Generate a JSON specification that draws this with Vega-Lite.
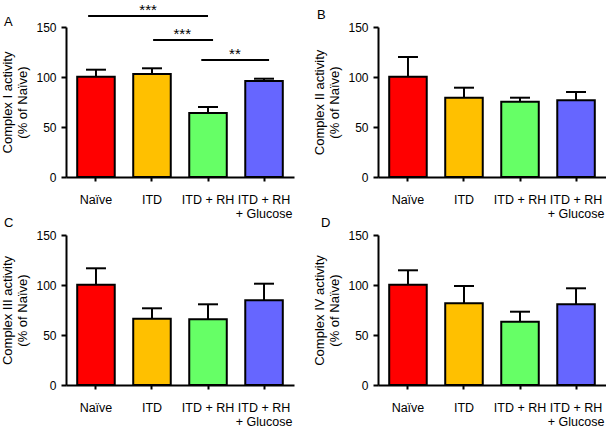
{
  "$schema": "https://vega.github.io/schema/vega-lite/v6.json",
  "padding": {"left": 1, "top": 3, "right": 0, "bottom": 0},
  "background": "white",
  "config": {
    "view": {"stroke": null},
    "font": "Liberation Sans",
    "axis": {"labelFont": "Liberation Sans", "titleFont": "Liberation Sans", "domainColor": "black", "tickColor": "black", "labelColor": "black", "titleColor": "black", "domainWidth": 2, "tickWidth": 2, "grid": false},
    "title": {"font": "Liberation Sans", "fontSize": 13, "fontWeight": "normal", "color": "black", "anchor": "start", "frame": "group", "offset": 7}
  },
  "datasets": {
    "bars": [
      {"panel": "A", "group": "Naïve", "value": 100.3, "upper": 107.3},
      {"panel": "A", "group": "ITD", "value": 103, "upper": 108.7},
      {"panel": "A", "group": "ITD + RH", "value": 64, "upper": 70},
      {"panel": "A", "group": "ITD + RH + Glucose", "value": 96, "upper": 98.3},
      {"panel": "B", "group": "Naïve", "value": 100.3, "upper": 120},
      {"panel": "B", "group": "ITD", "value": 79.3, "upper": 89.3},
      {"panel": "B", "group": "ITD + RH", "value": 75.3, "upper": 79.3},
      {"panel": "B", "group": "ITD + RH + Glucose", "value": 76.7, "upper": 85},
      {"panel": "C", "group": "Naïve", "value": 100.3, "upper": 116.7},
      {"panel": "C", "group": "ITD", "value": 66.3, "upper": 76.7},
      {"panel": "C", "group": "ITD + RH", "value": 65.7, "upper": 80.7},
      {"panel": "C", "group": "ITD + RH + Glucose", "value": 84.7, "upper": 101.3},
      {"panel": "D", "group": "Naïve", "value": 100.3, "upper": 114.7},
      {"panel": "D", "group": "ITD", "value": 81.7, "upper": 99},
      {"panel": "D", "group": "ITD + RH", "value": 63.3, "upper": 73.3},
      {"panel": "D", "group": "ITD + RH + Glucose", "value": 80.7, "upper": 96.7}
    ],
    "sig": [
      {"x1": -0.14, "x2": 2.0, "level": 161, "sx": 0.93, "stars": "***"},
      {"x1": 1.02, "x2": 2.09, "level": 137, "sx": 1.54, "stars": "***"},
      {"x1": 1.88, "x2": 3.09, "level": 117, "sx": 2.48, "stars": "**"}
    ]
  },
  "columns": 2,
  "bounds": "flush",
  "spacing": {"row": 58, "column": 84},
  "concat": [
    {
      "title": {"text": "A", "dx": -62, "dy": 33},
      "width": 228, "height": 150,
      "resolve": {"scale": {"x": "independent", "y": "independent"}},
      "layer": [
        {
          "data": {"name": "bars"},
          "transform": [{"filter": "datum.panel == 'A'"}],
          "encoding": {
            "x": {"field": "group", "type": "nominal", "sort": ["Naïve", "ITD", "ITD + RH", "ITD + RH + Glucose"], "scale": {"paddingInner": 0.33, "paddingOuter": 0.2}, "title": null, "axis": {"labelAngle": 0, "tickSize": 4, "labelPadding": 12, "labelFontSize": 12.5, "labelLineHeight": 14, "labelOverlap": false, "labelExpr": "datum.label == 'ITD + RH + Glucose' ? ['ITD + RH', '+ Glucose'] : datum.label"}}
          },
          "layer": [
            {"mark": {"type": "rule", "strokeWidth": 2, "color": "black"}, "encoding": {"y": {"field": "value", "type": "quantitative", "scale": {"domain": [0, 150]}, "title": ["Complex I activity", "(% of Naïve)"], "axis": {"values": [0, 50, 100, 150], "tickSize": 5, "labelPadding": 5, "labelFontSize": 12, "titleFontSize": 13, "titleFontWeight": "normal", "titlePadding": 6, "titleLineHeight": 15}}, "y2": {"field": "upper"}}},
            {"mark": {"type": "bar", "stroke": "black", "strokeWidth": 2}, "encoding": {"y": {"field": "value", "type": "quantitative", "scale": {"domain": [0, 150]}, "title": ["Complex I activity", "(% of Naïve)"]}, "color": {"field": "group", "type": "nominal", "scale": {"domain": ["Naïve", "ITD", "ITD + RH", "ITD + RH + Glucose"], "range": ["#FF0000", "#FFC000", "#66FF66", "#6666FF"]}, "legend": null}}},
            {"mark": {"type": "tick", "size": 20, "thickness": 2, "color": "black", "opacity": 1}, "encoding": {"y": {"field": "upper", "type": "quantitative", "scale": {"domain": [0, 150]}, "title": ["Complex I activity", "(% of Naïve)"]}}}
          ]
        },
        {
          "data": {"name": "sig"},
          "encoding": {
            "y": {"field": "level", "type": "quantitative", "scale": {"domain": [0, 150]}, "axis": null}
          },
          "layer": [
            {"mark": {"type": "rule", "strokeWidth": 2, "color": "black"}, "encoding": {"x": {"field": "x1", "type": "quantitative", "scale": {"domain": [-0.535, 3.535], "nice": false, "zero": false}, "axis": null}, "x2": {"field": "x2"}}},
            {"mark": {"type": "text", "fontSize": 15, "dy": -1, "baseline": "alphabetic", "color": "black", "font": "Liberation Sans"}, "encoding": {"x": {"field": "sx", "type": "quantitative", "scale": {"domain": [-0.535, 3.535], "nice": false, "zero": false}, "axis": null}, "text": {"field": "stars"}}}
          ]
        }
      ]
    },
    {
      "title": {"text": "B", "dx": -61, "dy": 8},
      "width": 228, "height": 150,
      "data": {"name": "bars"},
      "transform": [{"filter": "datum.panel == 'B'"}],
      "encoding": {
        "x": {"field": "group", "type": "nominal", "sort": ["Naïve", "ITD", "ITD + RH", "ITD + RH + Glucose"], "scale": {"paddingInner": 0.33, "paddingOuter": 0.2}, "title": null, "axis": {"labelAngle": 0, "tickSize": 4, "labelPadding": 12, "labelFontSize": 12.5, "labelLineHeight": 14, "labelOverlap": false, "labelExpr": "datum.label == 'ITD + RH + Glucose' ? ['ITD + RH', '+ Glucose'] : datum.label"}}
      },
      "layer": [
        {"mark": {"type": "rule", "strokeWidth": 2, "color": "black"}, "encoding": {"y": {"field": "value", "type": "quantitative", "scale": {"domain": [0, 150]}, "title": ["Complex II activity", "(% of Naïve)"], "axis": {"values": [0, 50, 100, 150], "tickSize": 5, "labelPadding": 5, "labelFontSize": 12, "titleFontSize": 13, "titleFontWeight": "normal", "titlePadding": 6, "titleLineHeight": 15}}, "y2": {"field": "upper"}}},
        {"mark": {"type": "bar", "stroke": "black", "strokeWidth": 2}, "encoding": {"y": {"field": "value", "type": "quantitative", "scale": {"domain": [0, 150]}, "title": ["Complex II activity", "(% of Naïve)"]}, "color": {"field": "group", "type": "nominal", "scale": {"domain": ["Naïve", "ITD", "ITD + RH", "ITD + RH + Glucose"], "range": ["#FF0000", "#FFC000", "#66FF66", "#6666FF"]}, "legend": null}}},
        {"mark": {"type": "tick", "size": 20, "thickness": 2, "color": "black", "opacity": 1}, "encoding": {"y": {"field": "upper", "type": "quantitative", "scale": {"domain": [0, 150]}, "title": ["Complex II activity", "(% of Naïve)"]}}}
      ]
    },
    {
      "title": {"text": "C", "dx": -62, "dy": 8},
      "width": 228, "height": 150,
      "data": {"name": "bars"},
      "transform": [{"filter": "datum.panel == 'C'"}],
      "encoding": {
        "x": {"field": "group", "type": "nominal", "sort": ["Naïve", "ITD", "ITD + RH", "ITD + RH + Glucose"], "scale": {"paddingInner": 0.33, "paddingOuter": 0.2}, "title": null, "axis": {"labelAngle": 0, "tickSize": 4, "labelPadding": 12, "labelFontSize": 12.5, "labelLineHeight": 14, "labelOverlap": false, "labelExpr": "datum.label == 'ITD + RH + Glucose' ? ['ITD + RH', '+ Glucose'] : datum.label"}}
      },
      "layer": [
        {"mark": {"type": "rule", "strokeWidth": 2, "color": "black"}, "encoding": {"y": {"field": "value", "type": "quantitative", "scale": {"domain": [0, 150]}, "title": ["Complex III activity", "(% of Naïve)"], "axis": {"values": [0, 50, 100, 150], "tickSize": 5, "labelPadding": 5, "labelFontSize": 12, "titleFontSize": 13, "titleFontWeight": "normal", "titlePadding": 6, "titleLineHeight": 15}}, "y2": {"field": "upper"}}},
        {"mark": {"type": "bar", "stroke": "black", "strokeWidth": 2}, "encoding": {"y": {"field": "value", "type": "quantitative", "scale": {"domain": [0, 150]}, "title": ["Complex III activity", "(% of Naïve)"]}, "color": {"field": "group", "type": "nominal", "scale": {"domain": ["Naïve", "ITD", "ITD + RH", "ITD + RH + Glucose"], "range": ["#FF0000", "#FFC000", "#66FF66", "#6666FF"]}, "legend": null}}},
        {"mark": {"type": "tick", "size": 20, "thickness": 2, "color": "black", "opacity": 1}, "encoding": {"y": {"field": "upper", "type": "quantitative", "scale": {"domain": [0, 150]}, "title": ["Complex III activity", "(% of Naïve)"]}}}
      ]
    },
    {
      "title": {"text": "D", "dx": -57, "dy": 8},
      "width": 228, "height": 150,
      "data": {"name": "bars"},
      "transform": [{"filter": "datum.panel == 'D'"}],
      "encoding": {
        "x": {"field": "group", "type": "nominal", "sort": ["Naïve", "ITD", "ITD + RH", "ITD + RH + Glucose"], "scale": {"paddingInner": 0.33, "paddingOuter": 0.2}, "title": null, "axis": {"labelAngle": 0, "tickSize": 4, "labelPadding": 12, "labelFontSize": 12.5, "labelLineHeight": 14, "labelOverlap": false, "labelExpr": "datum.label == 'ITD + RH + Glucose' ? ['ITD + RH', '+ Glucose'] : datum.label"}}
      },
      "layer": [
        {"mark": {"type": "rule", "strokeWidth": 2, "color": "black"}, "encoding": {"y": {"field": "value", "type": "quantitative", "scale": {"domain": [0, 150]}, "title": ["Complex IV activity", "(% of Naïve)"], "axis": {"values": [0, 50, 100, 150], "tickSize": 5, "labelPadding": 5, "labelFontSize": 12, "titleFontSize": 13, "titleFontWeight": "normal", "titlePadding": 6, "titleLineHeight": 15}}, "y2": {"field": "upper"}}},
        {"mark": {"type": "bar", "stroke": "black", "strokeWidth": 2}, "encoding": {"y": {"field": "value", "type": "quantitative", "scale": {"domain": [0, 150]}, "title": ["Complex IV activity", "(% of Naïve)"]}, "color": {"field": "group", "type": "nominal", "scale": {"domain": ["Naïve", "ITD", "ITD + RH", "ITD + RH + Glucose"], "range": ["#FF0000", "#FFC000", "#66FF66", "#6666FF"]}, "legend": null}}},
        {"mark": {"type": "tick", "size": 20, "thickness": 2, "color": "black", "opacity": 1}, "encoding": {"y": {"field": "upper", "type": "quantitative", "scale": {"domain": [0, 150]}, "title": ["Complex IV activity", "(% of Naïve)"]}}}
      ]
    }
  ]
}
